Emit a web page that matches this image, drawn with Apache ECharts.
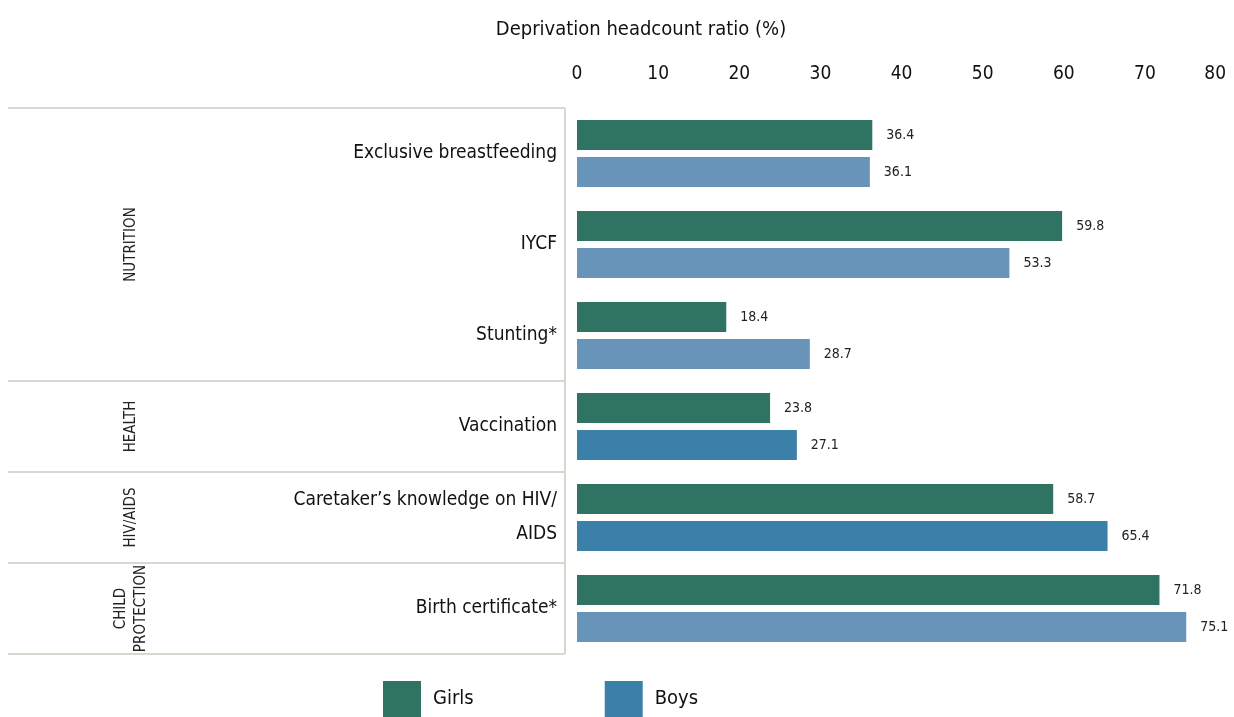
<!DOCTYPE html>
<html>
<head>
<meta charset="utf-8">
<script src="https://cdn.jsdelivr.net/npm/echarts@6/dist/echarts.min.js"></script>
<style>
html,body{margin:0;padding:0;background:#fff;}
#c{width:1234px;height:717px;}
</style>
</head>
<body>
<div id="c"></div>
<script>
const categories = ['Exclusive breastfeeding', 'IYCF', 'Stunting*', 'Vaccination', 'Caretaker’s knowledge on HIV/\nAIDS', 'Birth certificate*'];
const girls = [36.4, 59.8, 18.4, 23.8, 58.7, 71.8];
const boys = [36.1, 53.3, 28.7, 27.1, 65.4, 75.1];
const groupNames = ['NUTRITION', 'HEALTH', 'HIV/AIDS', 'CHILD\nPROTECTION'];
const groupSizes = [3, 1, 1, 1];
const seriesNames = ['Girls', 'Boys'];
const axisTitle = 'Deprivation headcount ratio (%)';

const FONT = "'Liberation Sans Narrow', 'DejaVu Sans Condensed', 'Arial Narrow', sans-serif";
const GREEN = '#2f7463';
const BLUE_DARK = '#3b80a9';
const BLUE_LIGHT = '#6894b9';
const darkBoyRows = [3, 4];
const LINE = '#ddd6ce';

const chart = echarts.init(document.getElementById('c'), null, {renderer: 'canvas'});

const labelCfg = {
  show: true, position: 'right', distance: 14,
  fontFamily: FONT, fontSize: 14, color: '#222',
  formatter: p => Number(p.value).toFixed(1)
};

chart.setOption({
  animation: false,
  backgroundColor: '#fff',
  title: {
    text: axisTitle, left: 636, top: 15, textAlign: 'center',
    textStyle: {fontFamily: FONT, fontSize: 20, fontWeight: 'normal', color: '#111'}
  },
  grid: {left: 577, right: 8, top: 108, bottom: 63, containLabel: false, outerBoundsMode: 'none'},
  xAxis: {
    type: 'value', position: 'top', min: 0, max: 80, interval: 10,
    axisLine: {show: false}, axisTick: {show: false}, splitLine: {show: false},
    axisLabel: {fontFamily: FONT, fontSize: 19, color: '#111', margin: 24, alignMaxLabel: 'right'}
  },
  yAxis: {
    type: 'category', data: categories, inverse: true,
    axisLine: {show: false}, axisTick: {show: false}, splitLine: {show: false},
    axisLabel: {fontFamily: FONT, fontSize: 19, color: '#111', margin: 20, lineHeight: 34, align: 'right'}
  },
  legend: {
    left: 378, top: 676, icon: 'rect', itemWidth: 38, itemHeight: 36, itemGap: 131,
    textStyle: {fontFamily: FONT, fontSize: 20, color: '#111', padding: [0, 0, 0, 7]},
    data: [{name: seriesNames[0], itemStyle: {color: GREEN}}, {name: seriesNames[1], itemStyle: {color: BLUE_DARK}}]
  },
  series: [
    {
      name: seriesNames[0], type: 'bar', data: girls, barWidth: 30, barGap: '23%',
      itemStyle: {color: GREEN}, label: labelCfg
    },
    {
      name: seriesNames[1], type: 'bar', data: boys, barWidth: 30,
      itemStyle: {color: p => darkBoyRows.indexOf(p.dataIndex) >= 0 ? BLUE_DARK : BLUE_LIGHT},
      label: labelCfg
    }
  ]
});

function drawDecor() {
  const c0 = chart.convertToPixel({yAxisIndex: 0}, 0);
  const c1 = chart.convertToPixel({yAxisIndex: 0}, 1);
  const band = c1 - c0;
  const top = c0 - band / 2;
  const xL = 8, xR = 565;
  const els = [];
  els.push({type: 'line', shape: {x1: xL, y1: top, x2: xR, y2: top}, style: {stroke: LINE, lineWidth: 2}});
  let idx = 0;
  groupSizes.forEach((n, g) => {
    const yStart = top + idx * band;
    const yEnd = top + (idx + n) * band;
    els.push({type: 'line', shape: {x1: xL, y1: yEnd, x2: xR, y2: yEnd}, style: {stroke: LINE, lineWidth: 2}});
    els.push({
      type: 'text', x: 131, y: (yStart + yEnd) / 2, rotation: Math.PI / 2,
      style: {text: groupNames[g], fontFamily: FONT, fontSize: 15, fill: '#222', align: 'center', verticalAlign: 'middle', lineHeight: 20}
    });
    idx += n;
  });
  els.push({type: 'line', shape: {x1: xR, y1: top, x2: xR, y2: top + idx * band}, style: {stroke: LINE, lineWidth: 2}});
  chart.setOption({graphic: {elements: els}});
}
drawDecor();
</script>
</body>
</html>
